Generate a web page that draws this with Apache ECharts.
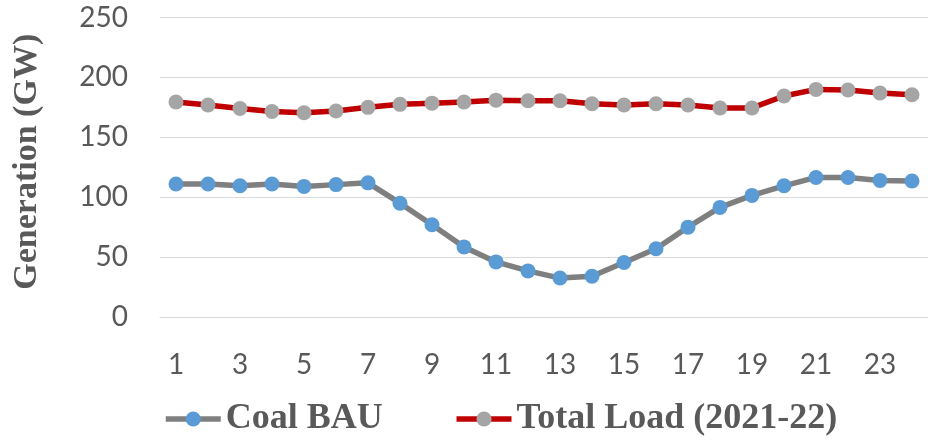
<!DOCTYPE html>
<html>
<head>
<meta charset="utf-8">
<script src="https://cdn.jsdelivr.net/npm/echarts@6/dist/echarts.min.js"></script>
<style>
    html, body { margin: 0; padding: 0; background: #fff; }
    #chart { width: 928px; height: 441px; }
</style>
</head>
<body>
<div id="chart"></div>
<script>
    // hours of the day
    const hours = ['1', '2', '3', '4', '5', '6', '7', '8', '9', '10', '11', '12',
        '13', '14', '15', '16', '17', '18', '19', '20', '21', '22', '23', '24'];

    // GW
    const coalBau = [111, 111, 109.5, 111, 109, 110.5, 112, 95, 77, 58.5, 46, 38.5,
        32.5, 34, 45.5, 57, 75, 91.5, 101.5, 109.5, 116.5, 116.5, 114, 113.5];
    const totalLoad = [179.5, 177, 174, 171.5, 170.5, 172, 175, 177.5, 178.5, 179.5, 181, 180.5,
        180.5, 178, 177, 178, 177, 174.5, 174.5, 184.5, 190, 189.5, 187, 185.5];

    const yTicks = { min: 0, max: 250, step: 50 };

    const textColor = '#595959';
    const serif = '"Liberation Serif", "DejaVu Serif", serif';
    const sans = 'Lato, "Open Sans", sans-serif';

    const chart = echarts.init(document.getElementById('chart'), null, { renderer: 'canvas' });

    chart.setOption({
        animation: false,
        grid: {
            left: 160,
            right: -6.5,
            top: 17.5,
            bottom: 124,
            containLabel: false
        },
        legend: {
            left: 163,
            top: 401,
            padding: 0,
            itemWidth: 55,
            itemHeight: 19,
            itemGap: 71,
            lineStyle: { width: 5.5 },
            textStyle: {
                color: textColor,
                fontFamily: serif,
                fontWeight: 'bold',
                fontSize: 36
            },
            data: ['Coal BAU', 'Total Load (2021-22)']
        },
        xAxis: {
            type: 'category',
            data: hours,
            boundaryGap: true,
            axisLine: { show: true, lineStyle: { color: '#d9d9d9', width: 1 } },
            axisTick: { show: false },
            axisLabel: {
                interval: 1,
                margin: 34,
                color: textColor,
                fontFamily: sans,
                fontSize: 28
            }
        },
        yAxis: {
            type: 'value',
            min: yTicks.min,
            max: yTicks.max,
            interval: yTicks.step,
            name: 'Generation (GW)',
            nameLocation: 'middle',
            nameRotate: 90,
            nameGap: 116,
            nameTextStyle: {
                color: textColor,
                fontFamily: serif,
                fontWeight: 'bold',
                fontSize: 34,
                padding: [0, 0, 0, 11]
            },
            axisLine: { show: false },
            axisTick: { show: false },
            splitLine: { lineStyle: { color: '#d9d9d9', width: 1 } },
            axisLabel: {
                margin: 32,
                color: textColor,
                fontFamily: sans,
                fontSize: 28
            }
        },
        series: [
            {
                name: 'Coal BAU',
                type: 'line',
                data: coalBau,
                symbol: 'circle',
                symbolSize: 15,
                lineStyle: { color: '#7f7f7f', width: 5.5 },
                itemStyle: { color: '#5b9bd5' }
            },
            {
                name: 'Total Load (2021-22)',
                type: 'line',
                data: totalLoad,
                symbol: 'circle',
                symbolSize: 15,
                lineStyle: { color: '#c00000', width: 5.5 },
                itemStyle: { color: '#a5a5a5' }
            }
        ]
    });
</script>
</body>
</html>
